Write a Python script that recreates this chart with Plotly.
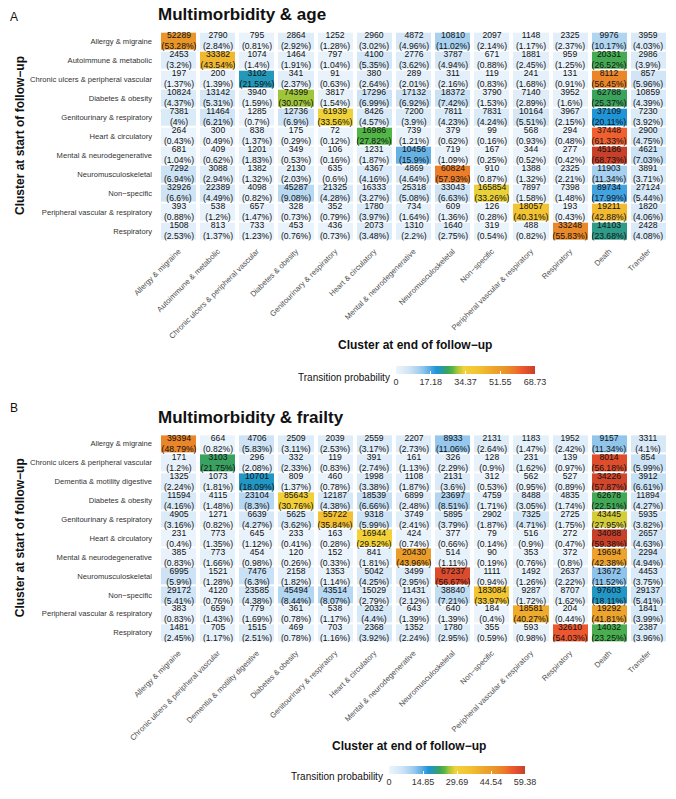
import plotly.graph_objects as go

# the page body adds an 8px margin, so the figure is drawn 16px smaller
# and every layout coordinate below is given in window pixels
OFF = 8
W, H = 676 - 2 * OFF, 799 - 2 * OFF

# ---- data -------------------------------------------------------------
A_ROWS = [
    "Allergy & migraine", "Autoimmune & metabolic",
    "Chronic ulcers & peripheral vascular", "Diabetes & obesity",
    "Genitourinary & respiratory", "Heart & circulatory",
    "Mental & neurodegenerative", "Neuromusculoskeletal", "Non−specific",
    "Peripheral vascular & respiratory", "Respiratory",
]
A_COLS = A_ROWS + ["Death", "Transfer"]

A_COUNTS = [
    [52289, 2790, 795, 2864, 1252, 2960, 4872, 10810, 2097, 1148, 2325, 9976, 3959],
    [2453, 33382, 1074, 1464, 797, 4100, 2776, 3787, 671, 1881, 959, 20331, 2986],
    [197, 200, 3102, 341, 91, 380, 289, 311, 119, 241, 131, 8112, 857],
    [10824, 13142, 3940, 74399, 3817, 17296, 17132, 18372, 3790, 7140, 3952, 62788, 10859],
    [7381, 11464, 1285, 12736, 61939, 8426, 7200, 7811, 7831, 10164, 3967, 37109, 7230],
    [264, 300, 838, 175, 72, 16986, 739, 379, 99, 568, 294, 37448, 2900],
    [681, 409, 1201, 349, 106, 1231, 10456, 719, 167, 344, 277, 45186, 4621],
    [7292, 3088, 1382, 2130, 635, 4367, 4869, 60824, 910, 1388, 2325, 11903, 3891],
    [32926, 22389, 4098, 45287, 21325, 16333, 25318, 33043, 165854, 7897, 7398, 89734, 27124],
    [393, 538, 657, 328, 352, 1780, 734, 609, 126, 18057, 193, 19211, 1820],
    [1508, 813, 733, 453, 436, 2073, 1310, 1640, 319, 488, 33248, 14103, 2428],
]
A_PCT = [
    [53.28, 2.84, 0.81, 2.92, 1.28, 3.02, 4.96, 11.02, 2.14, 1.17, 2.37, 10.17, 4.03],
    [3.2, 43.54, 1.4, 1.91, 1.04, 5.35, 3.62, 4.94, 0.88, 2.45, 1.25, 26.52, 3.9],
    [1.37, 1.39, 21.59, 2.37, 0.63, 2.64, 2.01, 2.16, 0.83, 1.68, 0.91, 56.45, 5.96],
    [4.37, 5.31, 1.59, 30.07, 1.54, 6.99, 6.92, 7.42, 1.53, 2.89, 1.6, 25.37, 4.39],
    [4, 6.21, 0.7, 6.9, 33.56, 4.57, 3.9, 4.23, 4.24, 5.51, 2.15, 20.11, 3.92],
    [0.43, 0.49, 1.37, 0.29, 0.12, 27.82, 1.21, 0.62, 0.16, 0.93, 0.48, 61.33, 4.75],
    [1.04, 0.62, 1.83, 0.53, 0.16, 1.87, 15.9, 1.09, 0.25, 0.52, 0.42, 68.73, 7.03],
    [6.94, 2.94, 1.32, 2.03, 0.6, 4.16, 4.64, 57.93, 0.87, 1.32, 2.21, 11.34, 3.71],
    [6.6, 4.49, 0.82, 9.08, 4.28, 3.27, 5.08, 6.63, 33.26, 1.58, 1.48, 17.99, 5.44],
    [0.88, 1.2, 1.47, 0.73, 0.79, 3.97, 1.64, 1.36, 0.28, 40.31, 0.43, 42.88, 4.06],
    [2.53, 1.37, 1.23, 0.76, 0.73, 3.48, 2.2, 2.75, 0.54, 0.82, 55.83, 23.68, 4.08],
]
A_CBAR_TICKS = ["0", "17.18", "34.37", "51.55", "68.73"]

B_ROWS = [
    "Allergy & migraine", "Chronic ulcers & peripheral vascular",
    "Dementia & motility digestive", "Diabetes & obesity",
    "Genitourinary & respiratory", "Heart & circulatory",
    "Mental & neurodegenerative", "Neuromusculoskeletal", "Non−specific",
    "Peripheral vascular & respiratory", "Respiratory",
]
B_COLS = B_ROWS + ["Death", "Transfer"]

B_COUNTS = [
    [39394, 664, 4706, 2509, 2039, 2559, 2207, 8933, 2131, 1183, 1952, 9157, 3311],
    [171, 3103, 296, 332, 119, 391, 161, 326, 128, 231, 139, 8014, 854],
    [1325, 1073, 10701, 809, 460, 1998, 1108, 2131, 312, 562, 527, 34226, 3912],
    [11594, 4115, 23104, 85643, 12187, 18539, 6899, 23697, 4759, 8488, 4835, 62678, 11894],
    [4905, 1271, 6639, 5625, 55722, 9318, 3749, 5895, 2902, 7325, 2725, 43445, 5935],
    [231, 773, 645, 233, 163, 16944, 424, 377, 79, 516, 272, 34088, 2657],
    [385, 773, 454, 120, 152, 841, 20430, 514, 90, 353, 372, 19694, 2294],
    [6995, 1521, 7476, 2158, 1353, 5042, 3499, 67237, 1111, 1492, 2637, 13672, 4453],
    [29172, 4120, 23585, 45494, 43514, 15029, 11431, 38840, 183084, 9287, 8707, 97603, 29137],
    [383, 659, 779, 361, 538, 2032, 643, 640, 184, 18581, 204, 19292, 1841],
    [1481, 705, 1515, 469, 703, 2368, 1352, 1780, 355, 593, 32610, 14032, 2387],
]
B_PCT = [
    [48.79, 0.82, 5.83, 3.11, 2.53, 3.17, 2.73, 11.06, 2.64, 1.47, 2.42, 11.34, 4.1],
    [1.2, 21.75, 2.08, 2.33, 0.83, 2.74, 1.13, 2.29, 0.9, 1.62, 0.97, 56.18, 5.99],
    [2.24, 1.81, 18.09, 1.37, 0.78, 3.38, 1.87, 3.6, 0.53, 0.95, 0.89, 57.87, 6.61],
    [4.16, 1.48, 8.3, 30.76, 4.38, 6.66, 2.48, 8.51, 1.71, 3.05, 1.74, 22.51, 4.27],
    [3.16, 0.82, 4.27, 3.62, 35.84, 5.99, 2.41, 3.79, 1.87, 4.71, 1.75, 27.95, 3.82],
    [0.4, 1.35, 1.12, 0.41, 0.28, 29.52, 0.74, 0.66, 0.14, 0.9, 0.47, 59.38, 4.63],
    [0.83, 1.66, 0.98, 0.26, 0.33, 1.81, 43.96, 1.11, 0.19, 0.76, 0.8, 42.38, 4.94],
    [5.9, 1.28, 6.3, 1.82, 1.14, 4.25, 2.95, 56.67, 0.94, 1.26, 2.22, 11.52, 3.75],
    [5.41, 0.76, 4.38, 8.44, 8.07, 2.79, 2.12, 7.21, 33.97, 1.72, 1.62, 18.11, 5.41],
    [0.83, 1.43, 1.69, 0.78, 1.17, 4.4, 1.39, 1.39, 0.4, 40.27, 0.44, 41.81, 3.99],
    [2.45, 1.17, 2.51, 0.78, 1.16, 3.92, 2.24, 2.95, 0.59, 0.98, 54.03, 23.25, 3.96],
]
B_CBAR_TICKS = ["0", "14.85", "29.69", "44.54", "59.38"]

# ---- style ------------------------------------------------------------
FONT = "Liberation Sans, Arial, sans-serif"
COLORSCALE = [
    [0.00, "#edf5fc"], [0.10, "#cde3f5"], [0.18, "#9ccbee"],
    [0.24, "#5eaee4"], [0.29, "#1e95db"], [0.335, "#2a9a9a"],
    [0.37, "#3ba35a"], [0.405, "#52b548"], [0.44, "#a5c63a"],
    [0.49, "#f2d23a"], [0.60, "#f2c132"], [0.70, "#eda52c"],
    [0.78, "#e8952a"], [0.85, "#ec7a2a"], [0.90, "#f05a30"],
    [1.00, "#c8402a"],
]


def px_x(p):
    return min(max((p - OFF) / W, 0), 1)


def px_y(p):
    return min(max(1 - (p - OFF) / H, 0), 1)


PANELS = [
    dict(tag="A", title="Multimorbidity & age", rows=A_ROWS, cols=A_COLS,
         counts=A_COUNTS, pct=A_PCT, cbar=A_CBAR_TICKS,
         grid=(32, 244), tag_top=8, title_y=15, xtitle=(415, 350),
         bar=(396, 535, 372), bar_label_y=383),
    dict(tag="B", title="Multimorbidity & frailty", rows=B_ROWS, cols=B_COLS,
         counts=B_COUNTS, pct=B_PCT, cbar=B_CBAR_TICKS,
         grid=(441, 652), tag_top=405, title_y=424, xtitle=(409, 757),
         bar=(389, 525, 778), bar_label_y=788),
]

fig = go.Figure()
annotations = []

for i, p in enumerate(PANELS):
    sfx = "" if i == 0 else str(i + 1)
    zmax = max(max(r) for r in p["pct"])
    text = [[f"{c}<br>({v:g}%)" for c, v in zip(cr, vr)]
            for cr, vr in zip(p["counts"], p["pct"])]
    x0, x1, ybar = p["bar"]
    fig.add_trace(go.Heatmap(
        z=p["pct"], x=p["cols"], y=p["rows"], text=text,
        texttemplate="%{text}",
        textfont=dict(family=FONT, size=8.6, color="#111111"),
        colorscale=COLORSCALE, zmin=0, zmax=zmax,
        xgap=4, ygap=2,
        xaxis="x" + sfx, yaxis="y" + sfx,
        colorbar=dict(
            orientation="h", lenmode="pixels", len=x1 - x0, thickness=8,
            x=px_x((x0 + x1) / 2), xanchor="center",
            y=px_y(ybar), yanchor="top", xpad=0, ypad=0,
            outlinewidth=0,
            tickvals=[zmax * k / 4 for k in range(5)], ticktext=p["cbar"],
            ticks="inside", ticklen=3, tickcolor="white",
            tickfont=dict(family=FONT, size=9, color="#333333"),
        ),
    ))
    top, bottom = p["grid"]
    fig.update_layout(**{
        "xaxis" + sfx: dict(
            domain=[px_x(159), px_x(668)], anchor="y" + sfx,
            tickangle=-45, showgrid=False, zeroline=False, ticks="",
            tickfont=dict(family=FONT, size=7.7, color="#4d4d4d"),
            ticklabelstandoff=4, automargin=False,
        ),
        "yaxis" + sfx: dict(
            domain=[px_y(bottom), px_y(top)], anchor="x" + sfx,
            autorange="reversed", showgrid=False, zeroline=False, ticks="",
            tickfont=dict(family=FONT, size=7.6, color="#333333"),
            ticklabelstandoff=6, automargin=False,
        ),
    })

    annotations += [
        dict(text=p["tag"], x=px_x(7), y=px_y(p["tag_top"]), xanchor="left",
             yanchor="top", font=dict(size=12, color="#111")),
        dict(text=f"<b>{p['title']}</b>", x=px_x(156), y=px_y(p["title_y"]),
             xanchor="left", yanchor="middle", font=dict(size=17, color="#111")),
        dict(text="<b>Cluster at start of follow−up</b>", textangle=-90,
             x=px_x(20), y=px_y((top + bottom) / 2), xanchor="center",
             yanchor="middle", font=dict(size=12, color="#111")),
        dict(text="<b>Cluster at end of follow−up</b>", x=px_x(p["xtitle"][0]),
             y=px_y(p["xtitle"][1]), xanchor="center", yanchor="middle",
             font=dict(size=12, color="#111")),
        dict(text="Transition probability", x=px_x(x0 - 4),
             y=px_y(p["bar_label_y"]), xanchor="right", yanchor="middle",
             font=dict(size=10, color="#111")),
    ]

for a in annotations:
    a.update(xref="paper", yref="paper", showarrow=False)
    a["font"]["family"] = FONT

fig.update_layout(
    width=W, height=H,
    margin=dict(l=0, r=0, t=0, b=0),
    paper_bgcolor="white", plot_bgcolor="white",
    font=dict(family=FONT),
    annotations=annotations,
)

fig.write_html("out.html")
